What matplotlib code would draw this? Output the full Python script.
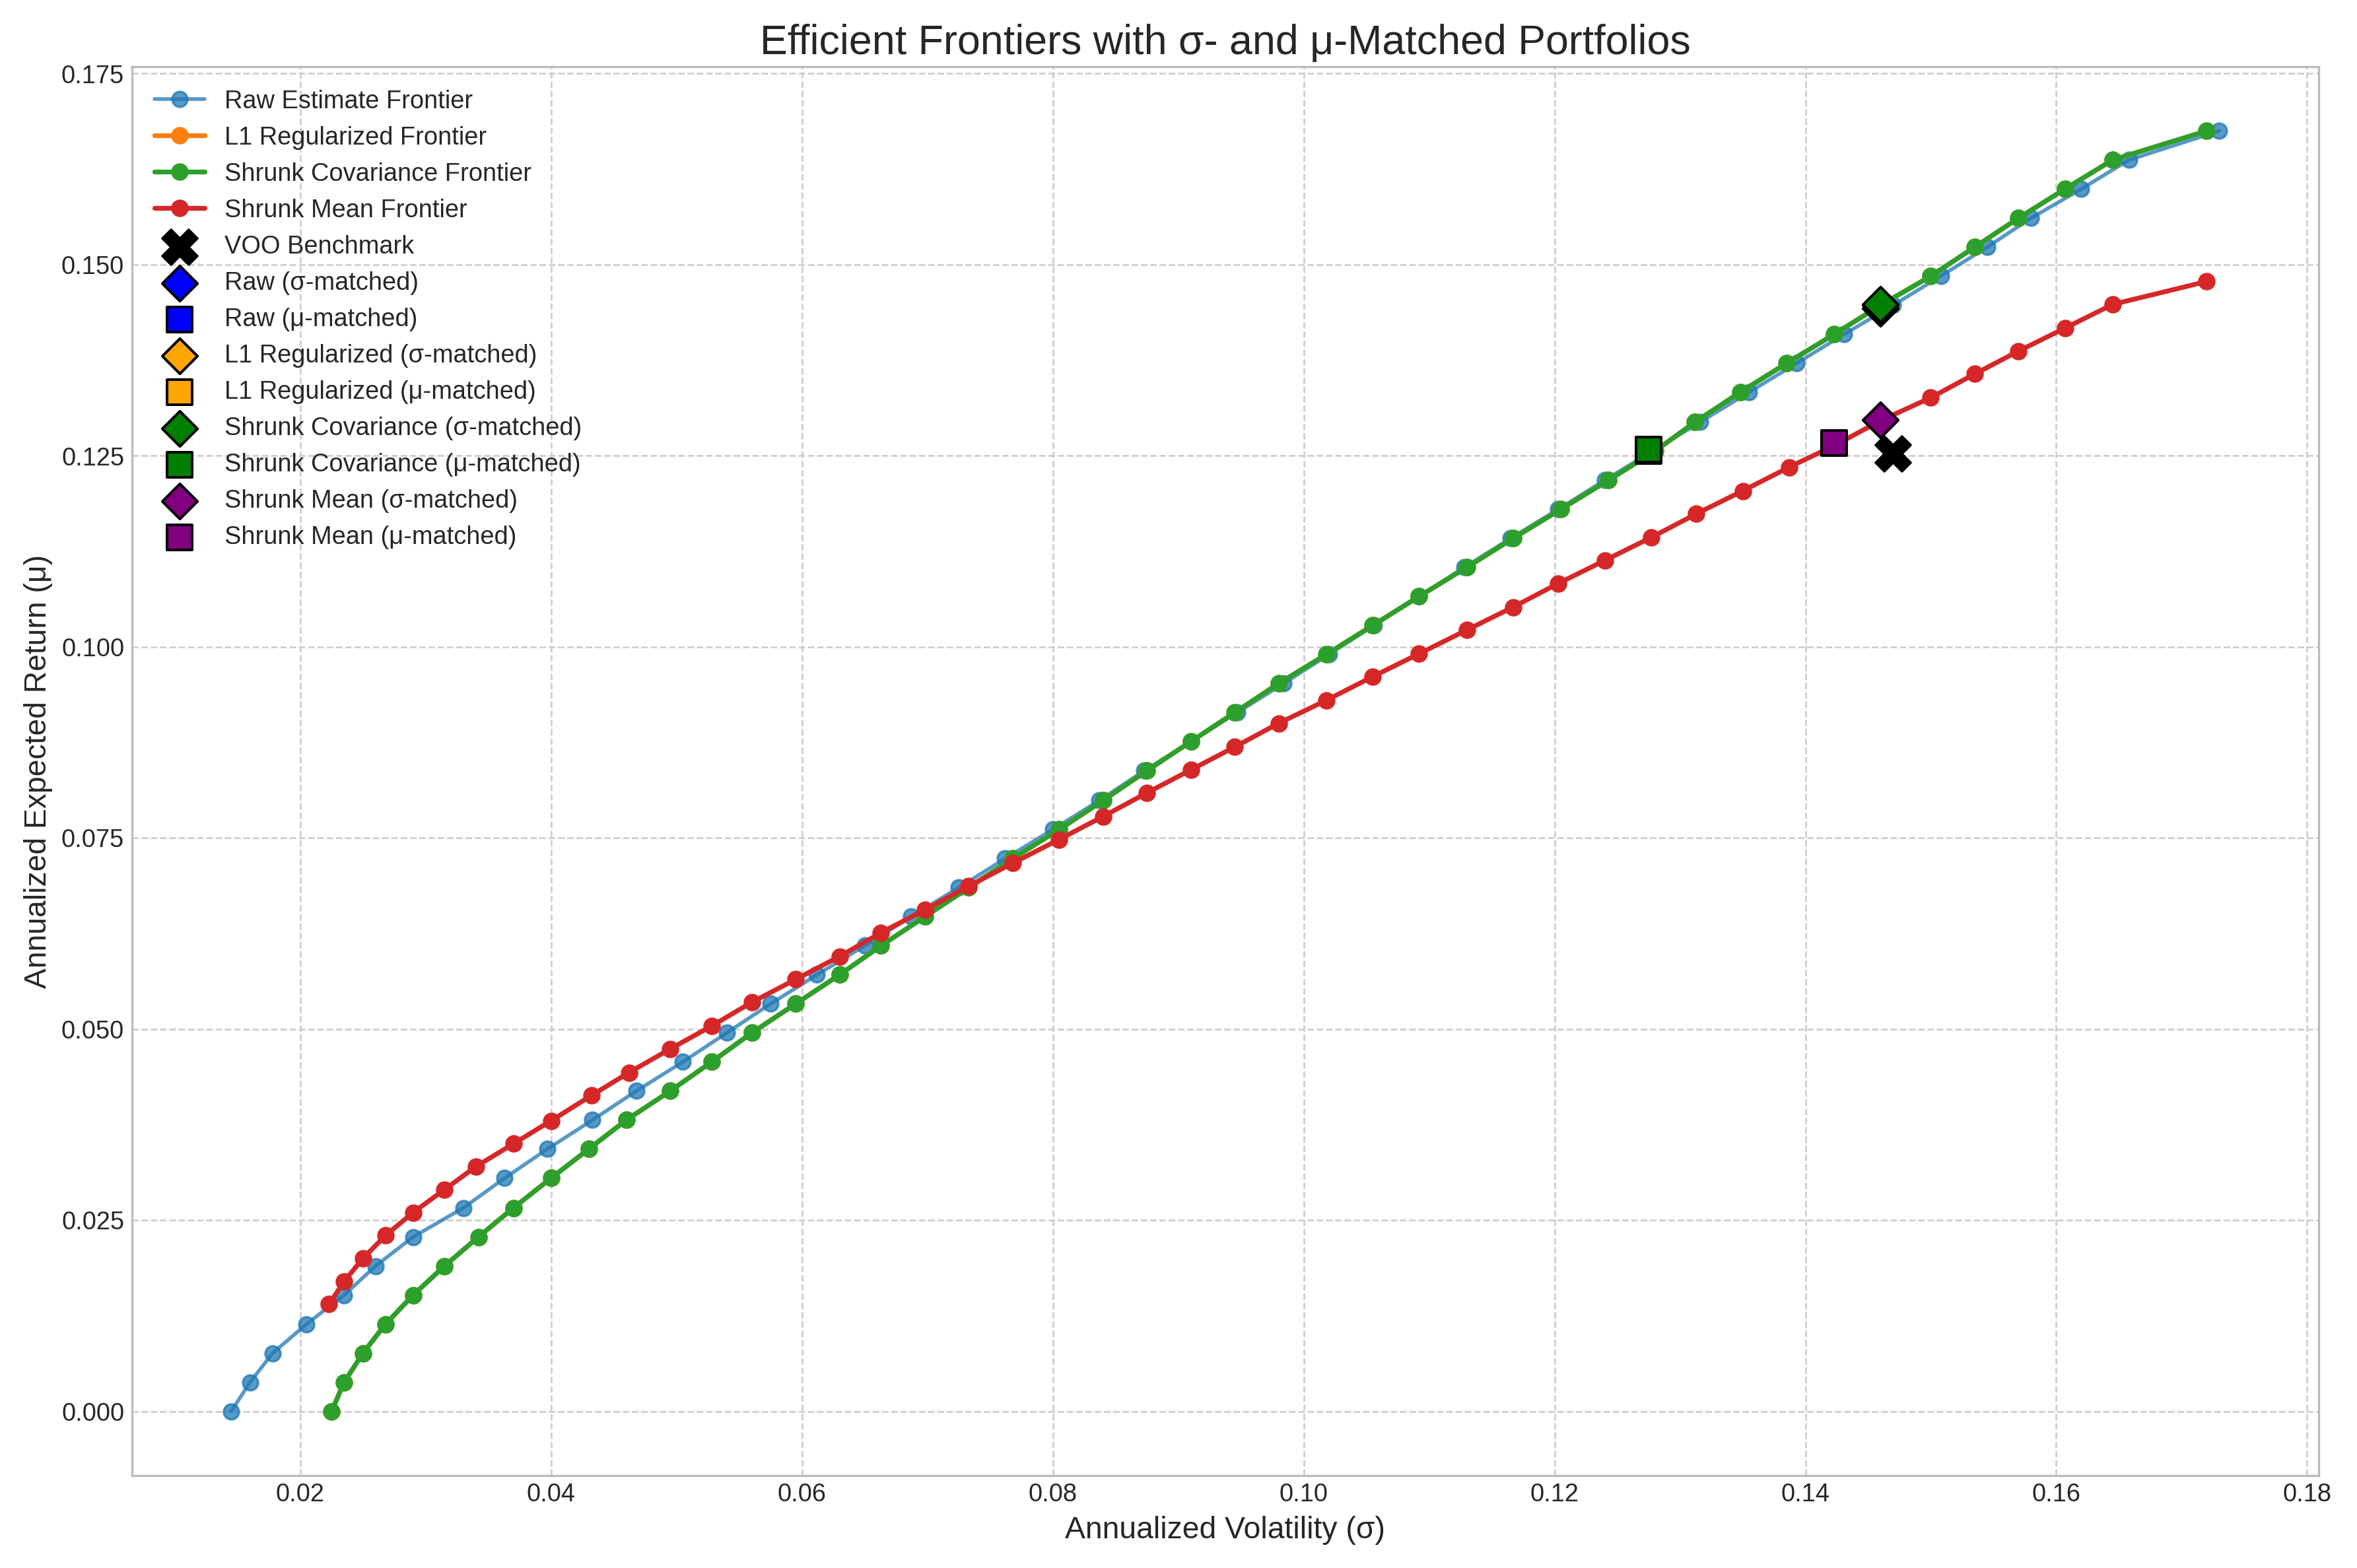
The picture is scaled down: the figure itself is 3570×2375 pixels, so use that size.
import matplotlib.pyplot as plt

mu_grid = [0.0, 0.0038, 0.0076, 0.0114, 0.0152, 0.019, 0.0228, 0.0266, 0.0305, 0.0343,
           0.0381, 0.0419, 0.0457, 0.0495, 0.0533, 0.0571, 0.0609, 0.0647, 0.0685, 0.0723,
           0.0761, 0.0799, 0.0838, 0.0876, 0.0914, 0.0952, 0.099, 0.1028, 0.1066, 0.1104,
           0.1142, 0.118, 0.1218, 0.1256, 0.1294, 0.1333, 0.1371, 0.1409, 0.1447, 0.1485,
           0.1523, 0.1561, 0.1599, 0.1637, 0.1675]
raw_sigma = [0.0145, 0.016, 0.0178, 0.0205, 0.0235, 0.026, 0.029, 0.033, 0.0363, 0.0397,
             0.0433, 0.0468, 0.0505, 0.054, 0.0575, 0.0612, 0.065, 0.0687, 0.0725, 0.0762,
             0.080, 0.0837, 0.0873, 0.091, 0.0947, 0.0984, 0.102, 0.1056, 0.1092, 0.1128,
             0.1165, 0.1203, 0.124, 0.1278, 0.1316, 0.1355, 0.1393, 0.1431, 0.147, 0.1508,
             0.1545, 0.158, 0.162, 0.1658, 0.173]
shrunk_sigma = [0.0225, 0.0235, 0.025, 0.0268, 0.029, 0.0315, 0.0342, 0.037, 0.04, 0.043,
                0.046, 0.0495, 0.0528, 0.056, 0.0595, 0.063, 0.0663, 0.0698, 0.0733, 0.0768,
                0.0805, 0.084, 0.0875, 0.091, 0.0945, 0.098, 0.1018, 0.1055, 0.1092, 0.113,
                0.1167, 0.1205, 0.1243, 0.128, 0.1312, 0.1348, 0.1385, 0.1423, 0.146, 0.150,
                0.1535, 0.157, 0.1607, 0.1645, 0.172]
mean_mu = [0.014, 0.017, 0.020, 0.023, 0.026, 0.029, 0.032, 0.035, 0.038, 0.0413,
           0.0443, 0.0474, 0.0504, 0.0535, 0.0565, 0.0595, 0.0626, 0.0656, 0.0687, 0.0717,
           0.0748, 0.0778, 0.0809, 0.0839, 0.0869, 0.09, 0.093, 0.0961, 0.0991, 0.1022,
           0.1052, 0.1083, 0.1113, 0.1143, 0.1174, 0.1204, 0.1235, 0.1265, 0.1296, 0.1326,
           0.1357, 0.1387, 0.1417, 0.1448, 0.1478]
mean_sigma = [0.0223, 0.0235, 0.025, 0.0268, 0.029, 0.0315, 0.034, 0.037, 0.040, 0.0432,
              0.0462, 0.0495, 0.0528, 0.056, 0.0595, 0.063, 0.0663, 0.0698, 0.0733, 0.0768,
              0.0805, 0.084, 0.0875, 0.091, 0.0945, 0.098, 0.1018, 0.1055, 0.1092, 0.113,
              0.1167, 0.1203, 0.124, 0.1277, 0.1313, 0.135, 0.1387, 0.1425, 0.146, 0.15,
              0.1535, 0.157, 0.1607, 0.1645, 0.172]

voo = (0.147, 0.1253)
matched = [
    ("Raw", "blue", (0.146, 0.1443), (0.1275, 0.1256)),
    ("L1 Regularized", "orange", (0.146, 0.1447), (0.1275, 0.1257)),
    ("Shrunk Covariance", "green", (0.146, 0.1448), (0.1275, 0.1258)),
    ("Shrunk Mean", "purple", (0.146, 0.1297), (0.1423, 0.1267)),
]

plt.style.use('seaborn-v0_8-whitegrid')
plt.rcParams['font.family'] = ['Liberation Sans', 'DejaVu Sans']
fig, ax = plt.subplots(figsize=(15, 9.98), dpi=238)

ax.plot(raw_sigma, mu_grid, marker='o', ms=7, lw=1.7, alpha=0.75, color='tab:blue', label='Raw Estimate Frontier')
ax.plot(shrunk_sigma, mu_grid, marker='o', ms=7, lw=2.2, color='tab:orange', label='L1 Regularized Frontier')
ax.plot(shrunk_sigma, mu_grid, marker='o', ms=7, lw=2.2, color='tab:green', label='Shrunk Covariance Frontier')
ax.plot(mean_sigma, mean_mu, marker='o', ms=7, lw=2.2, color='tab:red', label='Shrunk Mean Frontier')
ax.scatter(*voo, marker='X', s=260, color='black', zorder=5, label='VOO Benchmark')
for name, c, sm, mm in matched:
    ax.scatter(*sm, marker='D', s=130, color=c, edgecolor='black', lw=1.2, zorder=6, label=f'{name} (σ-matched)')
    ax.scatter(*mm, marker='s', s=130, color=c, edgecolor='black', lw=1.2, zorder=6, label=f'{name} (μ-matched)')

ax.grid(True, linestyle='--', color='#cccccc')
for s in ax.spines.values():
    s.set_visible(True)
    s.set_color('#bbbbbb')
ax.set_xlabel('Annualized Volatility (σ)', fontsize=14)
ax.set_ylabel('Annualized Expected Return (μ)', fontsize=14)
ax.set_title('Efficient Frontiers with σ- and μ-Matched Portfolios', fontsize=19)
ax.tick_params(labelsize=11.5)
ax.legend(loc='upper left', fontsize=11.5)
plt.tight_layout()
plt.savefig('out.png')
